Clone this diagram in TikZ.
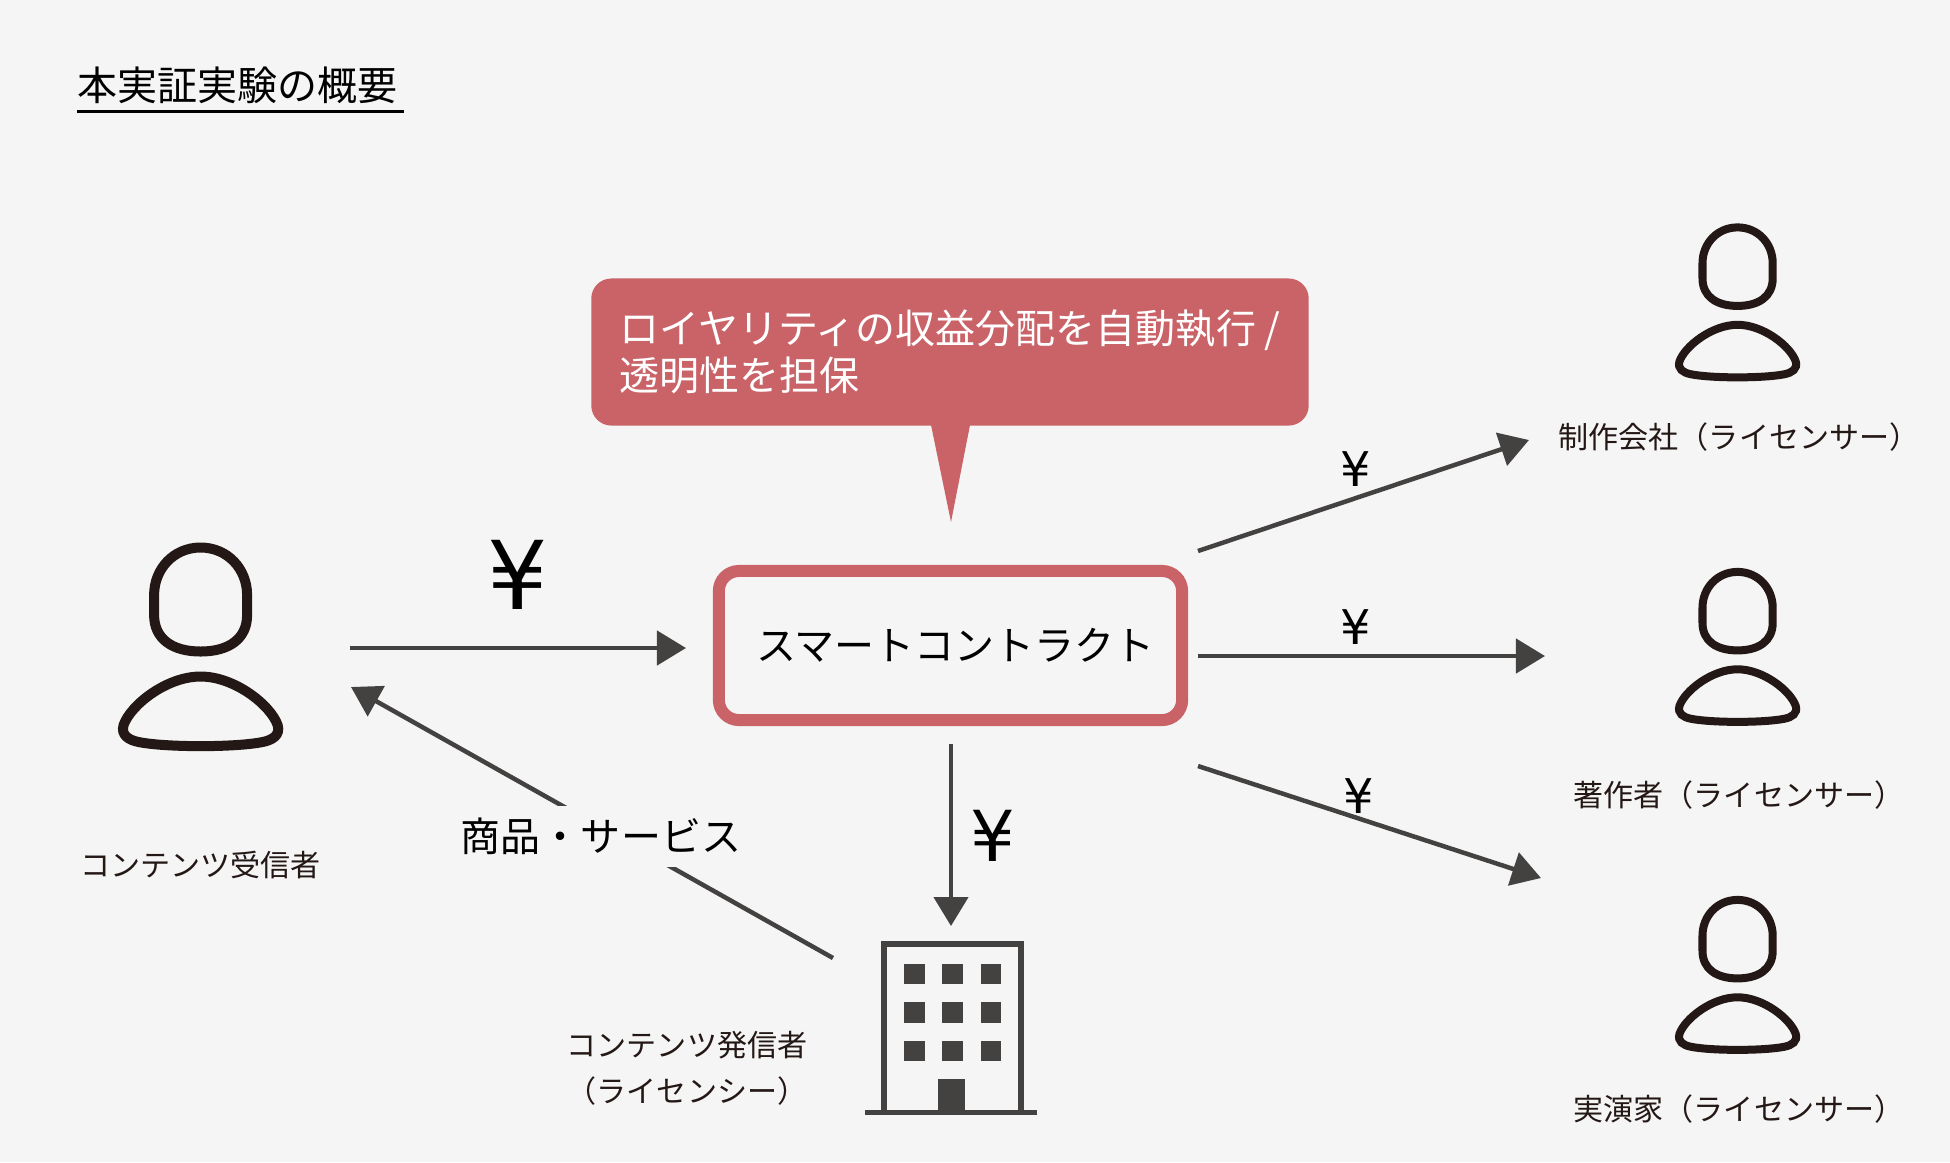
\documentclass[tikz,border=0pt]{standalone}
\usepackage{fontspec}
\setmainfont{Noto Sans CJK JP}
\newfontfamily\yenfont{DejaVu Sans}
\usetikzlibrary{arrows.meta, positioning}
\definecolor{cBg}{RGB}{245,245,245}
\definecolor{cRose}{RGB}{201,99,103}
\definecolor{cDark}{RGB}{68,65,65}
\definecolor{cInk}{RGB}{35,24,21}
\tikzset{
	flowarrow/.style={-{Triangle[length=0.29cm, width=0.34cm]}, line width=0.045cm, draw=cDark},
	plainlabel/.style={font=\fontsize{8.55pt}{13.1pt}\selectfont, text=cInk, align=center, inner sep=0pt},
	notebox/.style={rectangle, rounded corners=0.2cm, minimum width=7.17cm, minimum height=1.47cm, fill=cRose, text=white, align=left, inner sep=0pt, font=\fontsize{11.38pt}{13.4pt}\selectfont},
	contractbox/.style={rectangle, rounded corners=0.2cm, minimum width=4.63cm, minimum height=1.49cm, draw=cRose, line width=0.12cm, inner sep=0pt, font=\fontsize{11.38pt}{14pt}\selectfont},
	servicelabel/.style={rectangle, fill=cBg, minimum height=0.61cm, inner xsep=2pt, inner ysep=0pt, font=\fontsize{11.38pt}{14pt}\selectfont},
	yenbig/.style={inner sep=0pt, font=\yenfont\fontsize{27pt}{27pt}\selectfont},
	yenmid/.style={inner sep=0pt, font=\yenfont\fontsize{20pt}{20pt}\selectfont},
	yensmall/.style={inner sep=0pt, font=\yenfont\fontsize{13.6pt}{14pt}\selectfont},
	personline/.initial=0.1cm,
	person/.pic={
		\draw[draw=cInk, line width=\pgfkeysvalueof{/tikz/personline}] (0,-99.5) .. controls (27,-99.5) and (46.5,-78) .. (46.5,-52)
			-- (46.5,-32) .. controls (46.5,-8) and (28,4.5) .. (0,4.5)
			.. controls (-28,4.5) and (-46.5,-8) .. (-46.5,-32)
			-- (-46.5,-52) .. controls (-46.5,-78) and (-27,-99.5) .. (0,-99.5) -- cycle;
		\draw[draw=cInk, line width=\pgfkeysvalueof{/tikz/personline}] (0,29.5) .. controls (34,29.5) and (70,58) .. (77,78)
			.. controls (80,88) and (72,93) .. (62,95)
			.. controls (35,100.5) and (-35,100.5) .. (-62,95)
			.. controls (-72,93) and (-80,88) .. (-77,78)
			.. controls (-70,58) and (-34,29.5) .. (0,29.5) -- cycle;
	},
}

\begin{document}
\begin{tikzpicture}[x=0.01cm, y=-0.01cm]
	\fill[cBg] (0,0) rectangle (1950,1162);
	\useasboundingbox (0,0) rectangle (1950,1162);

	% title
	\node[anchor=west, text width=3.27cm, inner sep=0pt, font=\fontsize{11.38pt}{14pt}\selectfont, text=black] (title) at (77,85) {本実証実験の概要};
	\coordinate (titleL) at (77,111);
	\coordinate (titleR) at (404,111);
	\draw[line width=0.03cm] (titleL) -- (titleR);

	% people
	\pic (recv) at (200.6,647) {person};
	\pic[scale=0.755, personline=0.08cm] (maker) at (1737.6,302.5) {person};
	\pic[scale=0.755, personline=0.08cm] (author) at (1737.6,647) {person};
	\pic[scale=0.755, personline=0.08cm] (actor) at (1737.6,975) {person};

	\node[plainlabel] (recvlabel) at (200.5,865) {コンテンツ受信者};
	\node[plainlabel] (makerlabel) at (1739,437) {制作会社（ライセンサー）};
	\node[plainlabel] (authorlabel) at (1739,795) {著作者（ライセンサー）};
	\node[plainlabel] (actorlabel) at (1739,1109) {実演家（ライセンサー）};
	\node[plainlabel] (senderlabel) at (687,1068) {コンテンツ発信者\\（ライセンシー）};

	% building
	\draw[draw=cDark, line width=0.055cm] (884,1112) -- (884,944) -- (1021,944) -- (1021,1112);
	\draw[draw=cDark, line width=0.055cm] (865,1112.5) -- (1037,1112.5);
	\foreach \wx in {914.5, 952.5, 991} {
		\foreach \wy in {974, 1012.5, 1051} {
			\fill[cDark] (\wx-10.2,\wy-10.2) rectangle (\wx+10.2,\wy+10.2);
		}
	}
	\fill[cDark] (938,1079) rectangle (965,1112);

	% center box and note
	\node[contractbox] (contract) at (950.5,645.5) {\hspace{0.1cm}スマートコントラクト};
	\coordinate (noteL) at (930,420);
	\coordinate (noteR) at (971,420);
	\coordinate (noteTip) at (951,522);
	\fill[cRose] (noteL) -- (noteTip) -- (noteR) -- cycle;
	\node[notebox] (note) at (950,352) {ロイヤリティの収益分配を自動執行 /\\透明性を担保};

	% ends of the arrows
	\coordinate (recvOut) at (350,648);
	\coordinate (contractIn) at (686,648);
	\coordinate (recvIn) at (351,687);
	\coordinate (senderOut) at (833,958);
	\coordinate (contractDown) at (951,744);
	\coordinate (senderIn) at (951,926);
	\coordinate (outA) at (1198,551);
	\coordinate (makerIn) at (1529,440);
	\coordinate (outB) at (1198,656);
	\coordinate (authorIn) at (1545,656);
	\coordinate (outC) at (1198,766);
	\coordinate (actorIn) at (1541,878);

	\draw[flowarrow] (recvOut) -- (contractIn);
	\draw[flowarrow] (senderOut) -- (recvIn);
	\draw[flowarrow] (contractDown) -- (senderIn);
	\draw[flowarrow] (outA) -- (makerIn);
	\draw[flowarrow] (outB) -- (authorIn);
	\draw[flowarrow] (outC) -- (actorIn);

	\node[servicelabel] (service) at (601,836.5) {商品・サービス};
	\node[yenbig] (yenA) at (518,575) {¥};
	\node[yenmid] (yenB) at (993,836) {¥};
	\node[yensmall] (yenC) at (1356,469) {¥};
	\node[yensmall] (yenD) at (1356,627) {¥};
	\node[yensmall] (yenE) at (1359,796) {¥};
\end{tikzpicture}
\end{document}
